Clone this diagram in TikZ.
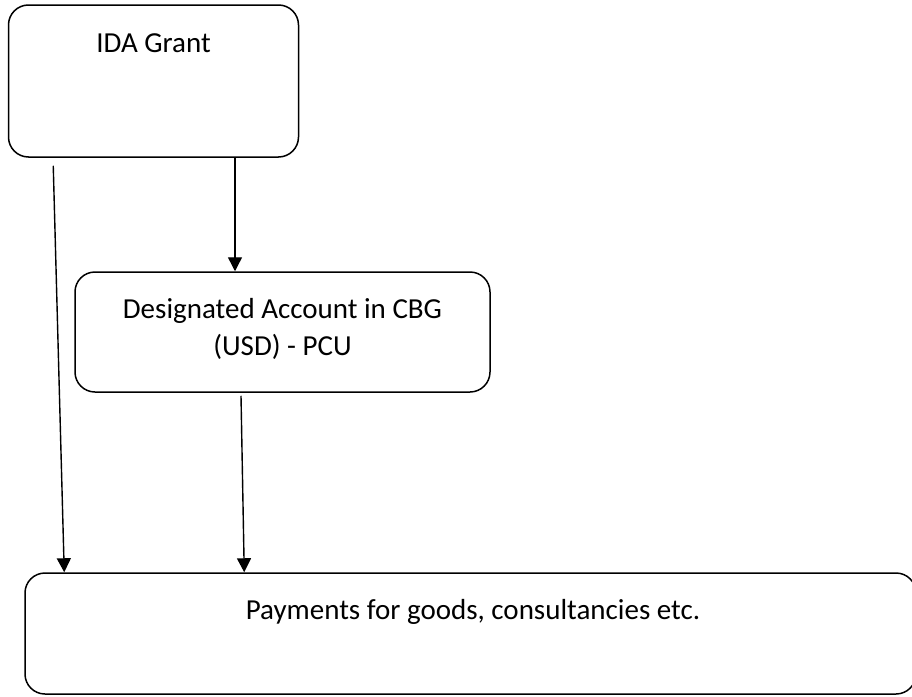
\documentclass[tikz,border=0pt]{standalone}
\usepackage{fontspec}
\setmainfont{Carlito}
\usetikzlibrary{arrows.meta}
\begin{document}
\begin{tikzpicture}[x=1pt,y=-1pt,
  box/.style={draw, line width=1.5pt, rounded corners=20pt, inner sep=0pt, fill=white},
  txt/.style={inner sep=0pt, align=center, font=\fontsize{29pt}{37pt}\selectfont},
  arr/.style={line width=1.4pt, -{Triangle[length=14pt,width=14pt]}}]
\useasboundingbox (0,0) rectangle (912,696);
\clip (0,0) rectangle (912,696);
\node[box, minimum width=290pt, minimum height=152pt] (grant) at (153.5,81) {};
\node[box, minimum width=415pt, minimum height=120pt] (acct) at (282.5,332) {};
\node[box, minimum width=891pt, minimum height=121pt] (pay) at (470.5,633.5) {};
\node[txt, anchor=base] (grantT) at (153.5,52) {IDA Grant};
\node[txt, anchor=center] (acctT) at (282.5,329) {Designated Account in CBG\\(USD) - PCU};
\node[txt, anchor=base] (payT) at (473,619) {Payments for goods, consultancies etc.};
\draw[arr] ([xshift=81.5pt]grant.south) -- ([xshift=81.5pt]grant.south |- acct.north);
\draw[arr] ([xshift=45.5pt,yshift=-8pt]grant.south west) -- ([xshift=40pt]pay.north west);
\draw[arr] ([xshift=-41.5pt,yshift=-3pt]acct.south) -- ([xshift=220pt]pay.north west);
\end{tikzpicture}
\end{document}
